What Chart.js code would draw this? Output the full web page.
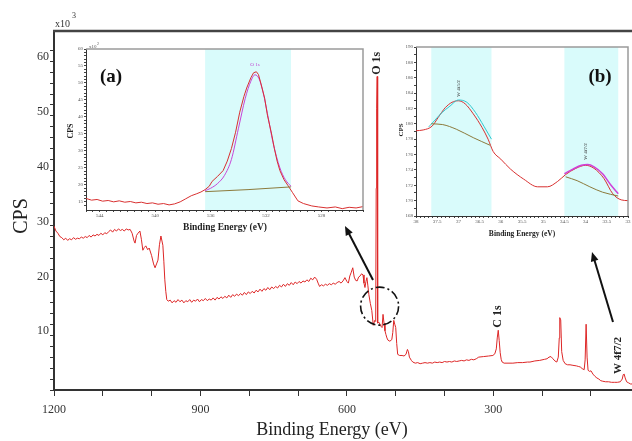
<!DOCTYPE html>
<html>
<head>
<meta charset="utf-8">
<script src="https://cdn.jsdelivr.net/npm/chart.js@4.4.0/dist/chart.umd.min.js"></script>
<style>
  body { margin: 0; background: #fff; }
  #wrap { position: relative; width: 632px; height: 441px; overflow: hidden; }
  #wrap canvas { position: absolute; }
</style>
</head>
<body>
<div id="wrap">
  <canvas id="survey" width="632" height="441" style="left:0;top:0"></canvas>
  <canvas id="insetA" width="307" height="194" style="left:58px;top:38px"></canvas>
  <canvas id="insetB" width="239" height="207" style="left:393px;top:36px"></canvas>
</div>
<script>
/* XPS survey spectrum with O 1s (a) and W 4f (b) detail insets
******************************************
*/

// survey scan, binding energy (eV) and CPS (x10^3)
const surveyEnergy = [
  1200,1196,1192,1188,1184,1180,1176,1172,1168,1164,1160,1156,1152,1148,1144,1140,1136,1132,1128,1124,
  1120,1116,1112,1108,1104,1100,1096,1092,1088,1084,1080,1076,1072,1068,1064,1060,1056,1052,1048,1044,
  1040,1036,1034,1031,1028,1024,1021,1018,1015,1012,1008,1005,1000,996,993,990,987,984,981,977,975,973,971,969,966,
  962,958,954,950,946,942,938,934,930,926,922,918,914,910,906,902,898,894,890,886,
  882,878,874,870,866,862,858,854,850,846,842,838,834,830,826,822,818,814,810,806,
  802,798,794,790,786,782,778,774,770,766,762,758,754,750,746,742,738,734,730,726,
  722,718,714,710,706,702,698,694,690,686,682,678,674,670,666,662,
  659,656,652,648,644,640,636,632,628,624,620,616,612,608,604,600,597,594,591,588,
  585,582,579,576,573,570,567,565,563,561,559,557,555,552,549,546,543,541,
  540,539,538,537,535,532,530,528,526,524,522,520,518,516,512,508,506,504,502,500,
  498,496,492,487,483,479,476,474,472,468,465,460,455,450,445,440,435,430,425,420,
  415,410,405,400,395,390,385,380,375,370,365,360,355,350,345,340,335,
  330,320,310,301,297,294,292,290,288,286,284,282,278,270,260,250,240,230,225,215,
  205,195,190,186,182,178,174,170,167,165,164,162,160,157,153,148,143,137,130,126,
  122,118,114,112,110,108,106,103,100,96,92,88,84,80,76,70,64,58,52,46,
  40,36,34,32,30,27,23,19,16
];
const surveyCps = [
  29.9,29.0,28.6,28.0,27.8,27.4,27.7,27.3,27.6,27.4,27.8,27.5,27.7,27.6,27.9,27.7,28.0,27.8,28.2,27.9,
  28.3,28.1,28.4,28.2,28.6,28.3,28.7,28.5,28.9,29.2,28.8,29.3,29.0,29.4,29.1,29.3,29.0,29.4,29.2,29.3,
  28.6,27.2,26.8,28.2,28.6,29.0,27.5,25.5,26.0,26.3,25.6,25.9,24.5,23.0,22.3,23.0,23.7,26.5,28.1,26.4,23.5,20.1,18.0,16.5,16.2,
  16.4,15.9,16.3,16.0,16.5,16.1,16.4,15.9,16.3,16.1,16.5,16.0,16.4,16.2,16.6,16.1,16.5,16.3,16.7,16.3,
  16.6,16.4,16.8,16.4,16.9,16.6,17.0,16.7,17.1,16.8,17.3,16.9,17.4,17.1,17.5,17.2,17.6,17.3,17.8,17.4,
  17.9,17.6,18.0,17.7,18.2,17.9,18.4,18.0,18.5,18.2,18.7,18.3,18.8,18.5,18.9,18.6,19.1,18.8,19.3,18.9,
  19.4,19.1,19.6,19.2,19.7,19.4,19.8,19.5,19.9,19.7,20.1,19.8,20.4,20.1,20.6,20.2,
  19.5,18.9,19.2,19.0,19.3,19.1,19.4,19.2,19.5,19.3,19.6,19.8,19.5,19.9,20.5,19.8,19.5,20.8,21.5,22.3,
  20.6,20.0,19.9,20.6,20.8,21.2,21.0,19.5,18.7,19.8,20.5,19.0,17.4,15.8,14.5,11.8,12.7,12.5,
  36.8,51.3,57.2,12.2,12.4,12.0,11.6,11.4,13.8,12.2,10.8,10.1,9.5,9.1,8.9,9.2,10.5,12.7,12.0,11.4,
  8.5,6.5,6.3,6.3,6.2,6.5,7.4,7.0,6.0,5.4,5.1,4.9,5.0,4.8,4.9,5.0,4.9,5.0,4.9,5.1,
  5.0,5.1,5.0,5.2,5.1,5.2,5.1,5.3,5.2,5.3,5.4,5.3,5.5,5.4,5.6,5.5,5.7,
  6.0,6.1,6.2,6.3,6.6,7.5,9.5,10.9,9.0,6.8,5.6,5.1,4.9,4.9,4.9,5.0,5.0,5.1,5.1,5.3,
  5.4,5.6,5.7,6.0,6.1,5.7,5.3,5.1,6.0,9.5,13.2,12.8,7.0,5.4,4.8,4.6,4.6,4.5,4.4,4.3,
  4.2,3.9,3.7,5.5,12.0,6.0,3.6,3.4,3.5,2.9,2.5,2.2,2.0,1.7,1.6,1.5,1.5,1.4,1.4,1.4,
  1.5,2.0,2.8,2.9,2.2,1.5,1.3,1.1,1.1
];
const surveyPeakNames = ['O 1s', 'C 1s', 'W 4f7/2'];

// inset (a): O 1s region, CPS x10^2
const oEnergy = [545,544.6,544.2,543.8,543.4,543,542.6,542.2,541.8,541.4,541,540.6,540.2,539.8,539.4,
  539,538.6,538.2,537.8,537.4,537,536.7,536.4,536.1,535.9,535.5,535.1,534.8,534.5,534.2,
  533.9,533.6,533.4,533.1,532.9,532.7,532.55,532.4,532.1,531.9,531.6,531.4,531.2,531,530.7,
  530.4,530.1,529.7,529.3,528.7,528.2,527.6,527,526.5,526,525.5,525];
const oCps = [16.0,15.5,15.7,15.2,15.4,15.0,15.3,14.9,15.1,14.7,14.9,14.5,14.7,14.3,14.5,
  14.1,14.4,15.0,15.9,16.8,17.4,17.9,18.6,19.6,21.0,22.5,24.2,27.0,30.7,35.5,
  41.4,46.0,48.5,51.5,53.0,53.3,52.5,50.3,45.5,40.5,35.0,30.7,27.0,24.2,21.5,
  19.7,17.8,15.3,14.5,13.8,13.5,13.2,13.5,13.0,13.4,13.2,13.6];
const oFitEnergy = [536.4,536,535.5,535,534.5,534,533.5,533.1,532.8,532.5,532.2,531.9,531.5,531,530.6,530.2];
const oFit = [18.3,19.0,20.4,22.8,27.5,36.5,45.5,50.5,52.4,51.2,47.0,41.0,32.5,25.0,21.5,19.6];
const oBgEnergy = [536.4,533.3,530.2];
const oBg = [18.0,18.6,19.4];
const oWindow = [536.4, 530.2];

// inset (b): W 4f region
const wEnergy = [38,37.83,37.62,37.48,37.31,37.15,37.0,36.84,36.65,36.44,36.3,36.18,36.0,
  35.77,35.46,35.13,34.9,34.66,34.47,34.23,34.0,33.8,33.57,33.36,33.16,33];
const wCps = [179.1,179.2,179.7,180.8,182.1,182.8,183.0,182.6,181.3,179.5,178.0,176.4,175.4,
  174.1,172.8,171.8,171.8,172.5,173.4,174.2,174.6,174.2,172.9,170.9,170.1,170.0];
const w52FitEnergy = [37.7,37.55,37.4,37.2,37.0,36.8,36.6,36.4,36.22];
const w52Fit = [179.6,180.5,181.4,182.3,183.1,182.8,181.5,179.7,178.0];
const w52BgEnergy = [37.64,37.37,37.05,36.65,36.25];
const w52Bg = [180.0,179.9,179.3,178.2,177.2];
const w72FitEnergy = [34.5,34.3,34.1,33.95,33.8,33.6,33.4,33.23];
const w72Fit = [173.5,174.1,174.6,174.7,174.4,173.5,172.0,170.9];
const w72BgEnergy = [34.47,34.2,33.9,33.6,33.23];
const w72Bg = [173.1,172.6,171.8,171.1,170.6];
const wWindows = [[37.64, 36.22], [34.5, 33.23]];

const SERIF = "'Liberation Serif', 'DejaVu Serif', serif";

function toPoints(xs, ys) {
  return xs.map((x, i) => ({ x: x, y: ys[i] }));
}

function rotText(ctx, txt, x, y, font, color) {
  ctx.save();
  ctx.translate(x, y);
  ctx.rotate(-Math.PI / 2);
  ctx.font = font;
  ctx.fillStyle = color;
  ctx.textAlign = 'center';
  ctx.textBaseline = 'middle';
  ctx.fillText(txt, 0, 0);
  ctx.restore();
}

function text(ctx, txt, x, y, font, color, align) {
  ctx.font = font;
  ctx.fillStyle = color;
  ctx.textAlign = align || 'center';
  ctx.textBaseline = 'middle';
  ctx.fillText(txt, x, y);
}

function arrow(ctx, x1, y1, x2, y2) {
  const ang = Math.atan2(y2 - y1, x2 - x1);
  ctx.save();
  ctx.strokeStyle = '#111';
  ctx.fillStyle = '#111';
  ctx.lineWidth = 2;
  ctx.beginPath();
  ctx.moveTo(x1, y1);
  ctx.lineTo(x2 - 6 * Math.cos(ang), y2 - 6 * Math.sin(ang));
  ctx.stroke();
  ctx.beginPath();
  ctx.moveTo(x2, y2);
  ctx.lineTo(x2 - 10 * Math.cos(ang - 0.4), y2 - 10 * Math.sin(ang - 0.4));
  ctx.lineTo(x2 - 10 * Math.cos(ang + 0.4), y2 - 10 * Math.sin(ang + 0.4));
  ctx.closePath();
  ctx.fill();
  ctx.restore();
}

function lineSet(xs, ys, color, width, smooth) {
  return {
    data: toPoints(xs, ys),
    borderColor: color,
    borderWidth: width,
    pointRadius: 0,
    tension: smooth ? 0.4 : 0,
    cubicInterpolationMode: smooth ? 'monotone' : 'default'
  };
}

// shared axis look for the two small insets
function insetAxis(min, max, step, reverse, labelIf, fit, fitProp) {
  return {
    type: 'linear',
    min: min,
    max: max,
    reverse: reverse,
    ticks: {
      stepSize: step,
      autoSkip: false,
      maxRotation: 0,
      padding: 1,
      font: { family: SERIF, size: 5 },
      color: '#555',
      callback: (v) => labelIf(v) ? String(Math.round(v * 10) / 10) : ''
    },
    grid: { drawOnChartArea: false, drawTicks: true, tickLength: 2, color: '#444' },
    border: { display: true, color: '#333', width: 1 },
    afterBuildTicks: (s) => {
      s.ticks = s.ticks.filter(t => Math.abs(t.value / step - Math.round(t.value / step)) < 1e-6);
    },
    afterFit: (s) => { s[fitProp] = fit; }
  };
}

function insetFrame(chart, bands, color) {
  const ctx = chart.ctx;
  const a = chart.chartArea;
  const x = chart.scales.x;
  ctx.save();
  ctx.fillStyle = color;
  bands.forEach((b) => {
    const p1 = x.getPixelForValue(b[0]);
    const p2 = x.getPixelForValue(b[1]);
    ctx.fillRect(Math.min(p1, p2), a.top, Math.abs(p2 - p1), a.bottom - a.top);
  });
  ctx.restore();
}

function insetBorder(chart) {
  const ctx = chart.ctx;
  const a = chart.chartArea;
  ctx.save();
  ctx.strokeStyle = '#9a9a9a';
  ctx.lineWidth = 1.5;
  ctx.beginPath();
  ctx.moveTo(a.left, a.top);
  ctx.lineTo(a.right, a.top);
  ctx.lineTo(a.right, a.bottom);
  ctx.stroke();
  ctx.restore();
}

function makeSurvey() {
  const decor = {
    id: 'surveyDecor',
    afterDraw(chart) {
      const ctx = chart.ctx;
      const a = chart.chartArea;
      const x = chart.scales.x;
      const y = chart.scales.y;
      ctx.save();
      ctx.strokeStyle = '#444';
      ctx.lineWidth = 2.5;
      ctx.beginPath();
      ctx.moveTo(a.left - 1, a.top);
      ctx.lineTo(a.right, a.top);
      ctx.stroke();

      text(ctx, 'x10', 55, 24, '10px ' + SERIF, '#333', 'left');
      text(ctx, '3', 72, 16, '8px ' + SERIF, '#333', 'left');
      rotText(ctx, 'CPS', 22, 216, '20px ' + SERIF, '#222');
      text(ctx, 'Binding Energy (eV)', 332, 430, '18px ' + SERIF, '#222');

      // peak labels
      rotText(ctx, surveyPeakNames[0], x.getPixelForValue(538), y.getPixelForValue(59.6), 'bold 12px ' + SERIF, '#222');
      rotText(ctx, surveyPeakNames[1], x.getPixelForValue(291), y.getPixelForValue(13.4), 'bold 12px ' + SERIF, '#222');
      rotText(ctx, surveyPeakNames[2], x.getPixelForValue(45), y.getPixelForValue(6.3), 'bold 11px ' + SERIF, '#222');

      // dash-dot ring round the O 1s foot
      ctx.strokeStyle = '#111';
      ctx.lineWidth = 1.6;
      ctx.setLineDash([9, 3, 2, 3]);
      ctx.beginPath();
      ctx.ellipse(x.getPixelForValue(533), y.getPixelForValue(15.3), 19, 19, 0, 0, Math.PI * 2);
      ctx.stroke();
      ctx.setLineDash([]);

      arrow(ctx, 373, 280, 345, 226);
      arrow(ctx, 613, 322, 592, 252);
      ctx.restore();
    }
  };

  return new Chart(document.getElementById('survey'), {
    type: 'line',
    data: { datasets: [lineSet(surveyEnergy, surveyCps, '#dd2626', 1, false)] },
    options: {
      responsive: false,
      animation: false,
      layout: { padding: { top: 31, right: 0, left: 0, bottom: 0 } },
      plugins: { legend: { display: false }, tooltip: { enabled: false } },
      scales: {
        x: {
          type: 'linear',
          reverse: true,
          min: 16,
          max: 1200,
          ticks: {
            stepSize: 100,
            autoSkip: false,
            maxRotation: 0,
            padding: 7,
            font: { family: SERIF, size: 12 },
            color: '#333',
            callback: (v) => v % 300 === 0 ? v : ''
          },
          grid: { drawOnChartArea: false, drawTicks: true, tickLength: 6, color: '#333' },
          border: { display: true, color: '#333', width: 2 },
          afterBuildTicks: (s) => { s.ticks = s.ticks.filter(t => t.value % 100 === 0); },
          afterFit: (s) => { s.height = 51; }
        },
        y: {
          min: 0,
          max: 65.5,
          ticks: {
            stepSize: 2,
            autoSkip: false,
            padding: 1,
            labelOffset: -4,
            font: { family: SERIF, size: 12 },
            color: '#333',
            callback: (v) => (v % 10 === 0 && v > 0) ? v : ''
          },
          grid: { drawOnChartArea: false, drawTicks: true, tickLength: 4, color: '#333' },
          border: { display: true, color: '#333', width: 2 },
          afterBuildTicks: (s) => { s.ticks = s.ticks.filter(t => t.value % 2 === 0); },
          afterFit: (s) => { s.width = 54; }
        }
      }
    },
    plugins: [decor]
  });
}

function makeInsetA() {
  const decor = {
    id: 'insetADecor',
    beforeDatasetsDraw(chart) { insetFrame(chart, [oWindow], '#d9fbfb'); },
    afterDraw(chart) {
      const ctx = chart.ctx;
      const x = chart.scales.x;
      const y = chart.scales.y;
      insetBorder(chart);
      text(ctx, 'x10', 31, 9, '5px ' + SERIF, '#555', 'left');
      text(ctx, '2', 39, 6, '4px ' + SERIF, '#555', 'left');
      text(ctx, '(a)', 53, 39, 'bold 19px ' + SERIF, '#111');
      rotText(ctx, 'CPS', 13, 93, 'bold 8px ' + SERIF, '#222');
      text(ctx, 'Binding Energy (eV)', 167, 190, 'bold 9.5px ' + SERIF, '#222');
      text(ctx, 'O 1s', x.getPixelForValue(532.8), y.getPixelForValue(55.4), '5px ' + SERIF, '#c040d0');
    }
  };
  return new Chart(document.getElementById('insetA'), {
    type: 'line',
    data: {
      datasets: [
        lineSet(oBgEnergy, oBg, '#8c7a3c', 1, false),
        lineSet(oEnergy, oCps, '#d83030', 1, false),
        lineSet(oFitEnergy, oFit, '#c844d8', 1, true)
      ]
    },
    options: {
      responsive: false,
      animation: false,
      layout: { padding: { top: 11, right: 2, left: 0, bottom: 0 } },
      plugins: { legend: { display: false }, tooltip: { enabled: false } },
      scales: {
        x: insetAxis(525, 545, 0.5, true, (v) => Math.abs(v % 4) < 1e-6, 22, 'height'),
        y: insetAxis(12.6, 60, 1, false, (v) => v >= 15 && Math.abs(v % 5) < 1e-6, 28, 'width')
      }
    },
    plugins: [decor]
  });
}

function makeInsetB() {
  const decor = {
    id: 'insetBDecor',
    beforeDatasetsDraw(chart) { insetFrame(chart, wWindows, '#d9fbfb'); },
    afterDraw(chart) {
      const ctx = chart.ctx;
      const x = chart.scales.x;
      const y = chart.scales.y;
      insetBorder(chart);
      text(ctx, '(b)', 207, 41, 'bold 19px ' + SERIF, '#111');
      rotText(ctx, 'CPS', 8, 94, 'bold 7px ' + SERIF, '#222');
      text(ctx, 'Binding Energy (eV)', 129, 198, 'bold 7.5px ' + SERIF, '#222');
      rotText(ctx, 'W 4f5/2', x.getPixelForValue(37.0), y.getPixelForValue(184.6), '5px ' + SERIF, '#333');
      rotText(ctx, 'W 4f7/2', x.getPixelForValue(34.0), y.getPixelForValue(176.4), '5px ' + SERIF, '#333');
    }
  };
  return new Chart(document.getElementById('insetB'), {
    type: 'line',
    data: {
      datasets: [
        lineSet(w52BgEnergy, w52Bg, '#8c7a3c', 1, true),
        lineSet(w72BgEnergy, w72Bg, '#8c7a3c', 1, true),
        lineSet(w52FitEnergy, w52Fit, '#30c8d0', 1, true),
        lineSet(w72FitEnergy, w72Fit, '#d040d8', 1.5, true),
        lineSet(wEnergy, wCps, '#d83030', 1, true)
      ]
    },
    options: {
      responsive: false,
      animation: false,
      layout: { padding: { top: 11, right: 4, left: 0, bottom: 0 } },
      plugins: { legend: { display: false }, tooltip: { enabled: false } },
      scales: {
        x: insetAxis(33, 38, 0.1, true, (v) => Math.abs(v * 2 - Math.round(v * 2)) < 1e-6, 27, 'height'),
        y: insetAxis(168, 190, 1, false, (v) => Math.round(v) % 2 === 0, 23, 'width')
      }
    },
    plugins: [decor]
  });
}

document.addEventListener('DOMContentLoaded', () => {
  makeSurvey();
  makeInsetA();
  makeInsetB();
});
</script>
</body>
</html>
